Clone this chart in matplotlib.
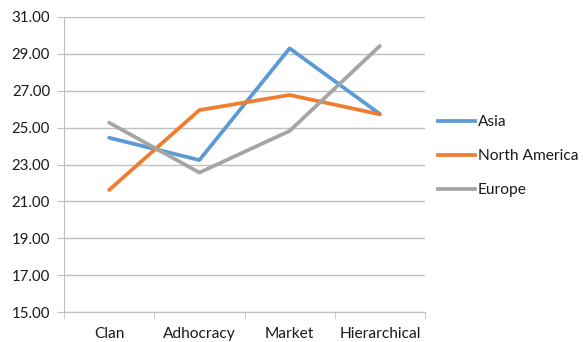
import matplotlib
matplotlib.use("Agg")
import matplotlib.pyplot as plt
from matplotlib.lines import Line2D

categories = ["Clan", "Adhocracy", "Market", "Hierarchical"]
asia = [24.45, 23.24, 29.30, 25.74]
north_america = [21.62, 25.95, 26.77, 25.72]
europe = [25.27, 22.56, 24.82, 29.43]
series_names = ["Asia", "North America", "Europe"]
colors = ["#5B9BD5", "#ED7D31", "#A5A5A5"]
y_ticks = [15, 17, 19, 21, 23, 25, 27, 29, 31]

plt.rcParams["font.family"] = ["Lato", "DejaVu Sans"]

fig = plt.figure(figsize=(5.83, 3.42), dpi=100)
ax = fig.add_axes([64 / 583, 30 / 342, 361 / 583, 295 / 342])

x = list(range(len(categories)))
for vals, name, c in zip([asia, north_america, europe], series_names, colors):
    ax.plot(x, vals, color=c, lw=2.7, solid_capstyle="round", solid_joinstyle="round", label=name)

ax.set_xlim(-0.5, len(categories) - 0.5)
ax.set_ylim(15, 31)
ax.set_yticks(y_ticks)
ax.set_yticklabels([f"{v:.2f}" for v in y_ticks], fontsize=10.8, color="#1a1a1a")
ax.set_xticks(x)
ax.set_xticklabels(categories, fontsize=11.2, color="#1a1a1a")
ax.tick_params(axis="x", length=0, pad=11)
ax.tick_params(axis="y", length=5, color="#BFBFBF", pad=5)

# category boundary ticks on the x axis
ax.set_xticks([i - 0.5 for i in range(len(categories) + 1)], minor=True)
ax.tick_params(axis="x", which="minor", length=5, color="#BFBFBF", direction="out")

ax.grid(axis="y", color="#BFBFBF", lw=1.0)
ax.set_axisbelow(True)
for s in ["top", "right"]:
    ax.spines[s].set_visible(False)
ax.spines["left"].set_color("#BFBFBF")
ax.spines["bottom"].set_color("#BFBFBF")

handles = [Line2D([0], [0], color=c, lw=2.7) for c in colors]
fig.legend(handles, series_names, loc="upper left", bbox_to_anchor=(424 / 583, 1 - 101 / 342),
           frameon=False, fontsize=11.2, handlelength=2.4, handletextpad=0.15, labelspacing=1.3,
           labelcolor="#1a1a1a")

fig.savefig("out.png", dpi=100)
